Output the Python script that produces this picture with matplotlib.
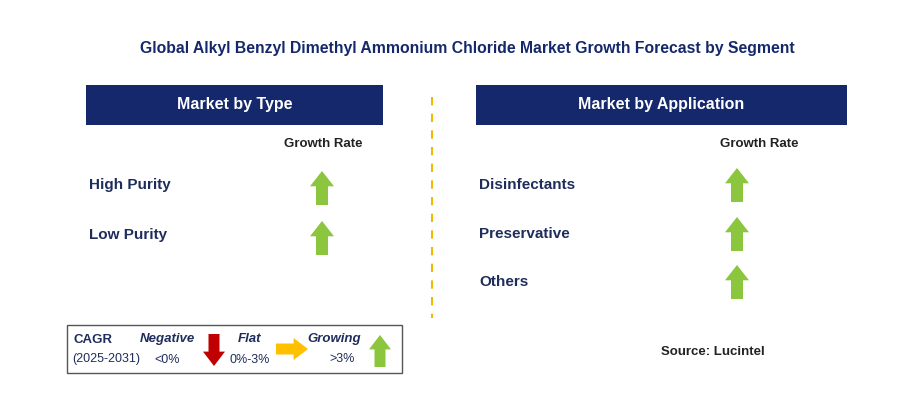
import matplotlib
matplotlib.use("Agg")
import matplotlib.pyplot as plt
from matplotlib.patches import Rectangle, Polygon

plt.rcParams["font.family"] = "Liberation Sans"

title = "Global Alkyl Benzyl Dimethyl Ammonium Chloride Market Growth Forecast by Segment"
type_cats = ["High Purity", "Low Purity"]
type_trend = ["up", "up"]
app_cats = ["Disinfectants", "Preservative", "Others"]
app_trend = ["up", "up", "up"]

NAVY = "#14286B"
TXT = "#1F2D5C"
GREEN = "#8CC63F"
RED = "#C00000"
YEL = "#FFC000"

fig = plt.figure(figsize=(9.06, 4.20), dpi=100)
ax = fig.add_axes([0, 0, 1, 1])
ax.set_xlim(0, 906); ax.set_ylim(420, 0); ax.axis("off")

def arrow(cx, cy, d, color, h=34, w=24, bw=12):
    hh = h * 0.45
    if d == "up":
        pts = [(cx, cy - h/2), (cx + w/2, cy - h/2 + hh), (cx + bw/2, cy - h/2 + hh),
               (cx + bw/2, cy + h/2), (cx - bw/2, cy + h/2), (cx - bw/2, cy - h/2 + hh),
               (cx - w/2, cy - h/2 + hh)]
    elif d == "down":
        pts = [(cx, cy + h/2), (cx + w/2, cy + h/2 - hh), (cx + bw/2, cy + h/2 - hh),
               (cx + bw/2, cy - h/2), (cx - bw/2, cy - h/2), (cx - bw/2, cy + h/2 - hh),
               (cx - w/2, cy + h/2 - hh)]
    else:
        pts = [(cx + h/2, cy), (cx + h/2 - hh, cy - w/2), (cx + h/2 - hh, cy - bw/2),
               (cx - h/2, cy - bw/2), (cx - h/2, cy + bw/2), (cx + h/2 - hh, cy + bw/2),
               (cx + h/2 - hh, cy + w/2)]
    ax.add_patch(Polygon(pts, closed=True, color=color, lw=0))

ax.text(467, 48, title, ha="center", va="center", fontsize=11.3, fontweight="bold", color=NAVY)

for x0, x1, lab in [(86, 383, "Market by Type"), (476, 847, "Market by Application")]:
    ax.add_patch(Rectangle((x0, 85), x1 - x0, 40, color=NAVY, lw=0))
    ax.text((x0 + x1) / 2, 105, lab, ha="center", va="center", fontsize=11.5, fontweight="bold", color="white")

ax.plot([432, 432], [97, 318], ls=(0, (4, 4)), color="#F5B800", lw=1.5)

ax.text(323, 144, "Growth Rate", ha="center", va="center", fontsize=9.5, fontweight="bold", color="#222222")
ax.text(759, 144, "Growth Rate", ha="center", va="center", fontsize=9.5, fontweight="bold", color="#222222")

for i, (c, t) in enumerate(zip(type_cats, type_trend)):
    y = 185 + i * 50
    ax.text(89, y, c, ha="left", va="center", fontsize=11, fontweight="bold", color=TXT)
    arrow(322, y + 3, t, GREEN)
for i, (c, t) in enumerate(zip(app_cats, app_trend)):
    y = [185, 234, 282][i]
    ax.text(479, y, c, ha="left", va="center", fontsize=11, fontweight="bold", color=TXT)
    arrow(737, y, t, GREEN)

# legend
ax.add_patch(Rectangle((67, 325), 335, 48, fill=False, ec="#555555", lw=1))
ax.text(74, 340, "CAGR", fontsize=9.5, fontweight="bold", color=TXT, va="center")
ax.text(72, 359, "(2025-2031)", fontsize=9, color=TXT, va="center")
ax.text(167, 339, "Negative", fontsize=9.5, fontweight="bold", style="italic", color=TXT, ha="center", va="center")
ax.text(167, 360, "<0%", fontsize=9, color=TXT, ha="center", va="center")
arrow(214, 350, "down", RED, h=32, w=22, bw=11)
ax.text(250, 339, "Flat", fontsize=9.5, fontweight="bold", style="italic", color=TXT, ha="center", va="center")
ax.text(250, 360, "0%-3%", fontsize=9, color=TXT, ha="center", va="center")
arrow(292, 349, "right", YEL, h=32, w=22, bw=11)
ax.text(334, 339, "Growing", fontsize=9.5, fontweight="bold", style="italic", color=TXT, ha="center", va="center")
ax.text(342, 359, ">3%", fontsize=9, color=TXT, ha="center", va="center")
arrow(380, 351, "up", GREEN, h=32, w=22, bw=11)

ax.text(713, 352, "Source: Lucintel", fontsize=9.5, fontweight="bold", color="#222222", ha="center", va="center")

fig.savefig("out.png", dpi=100)
